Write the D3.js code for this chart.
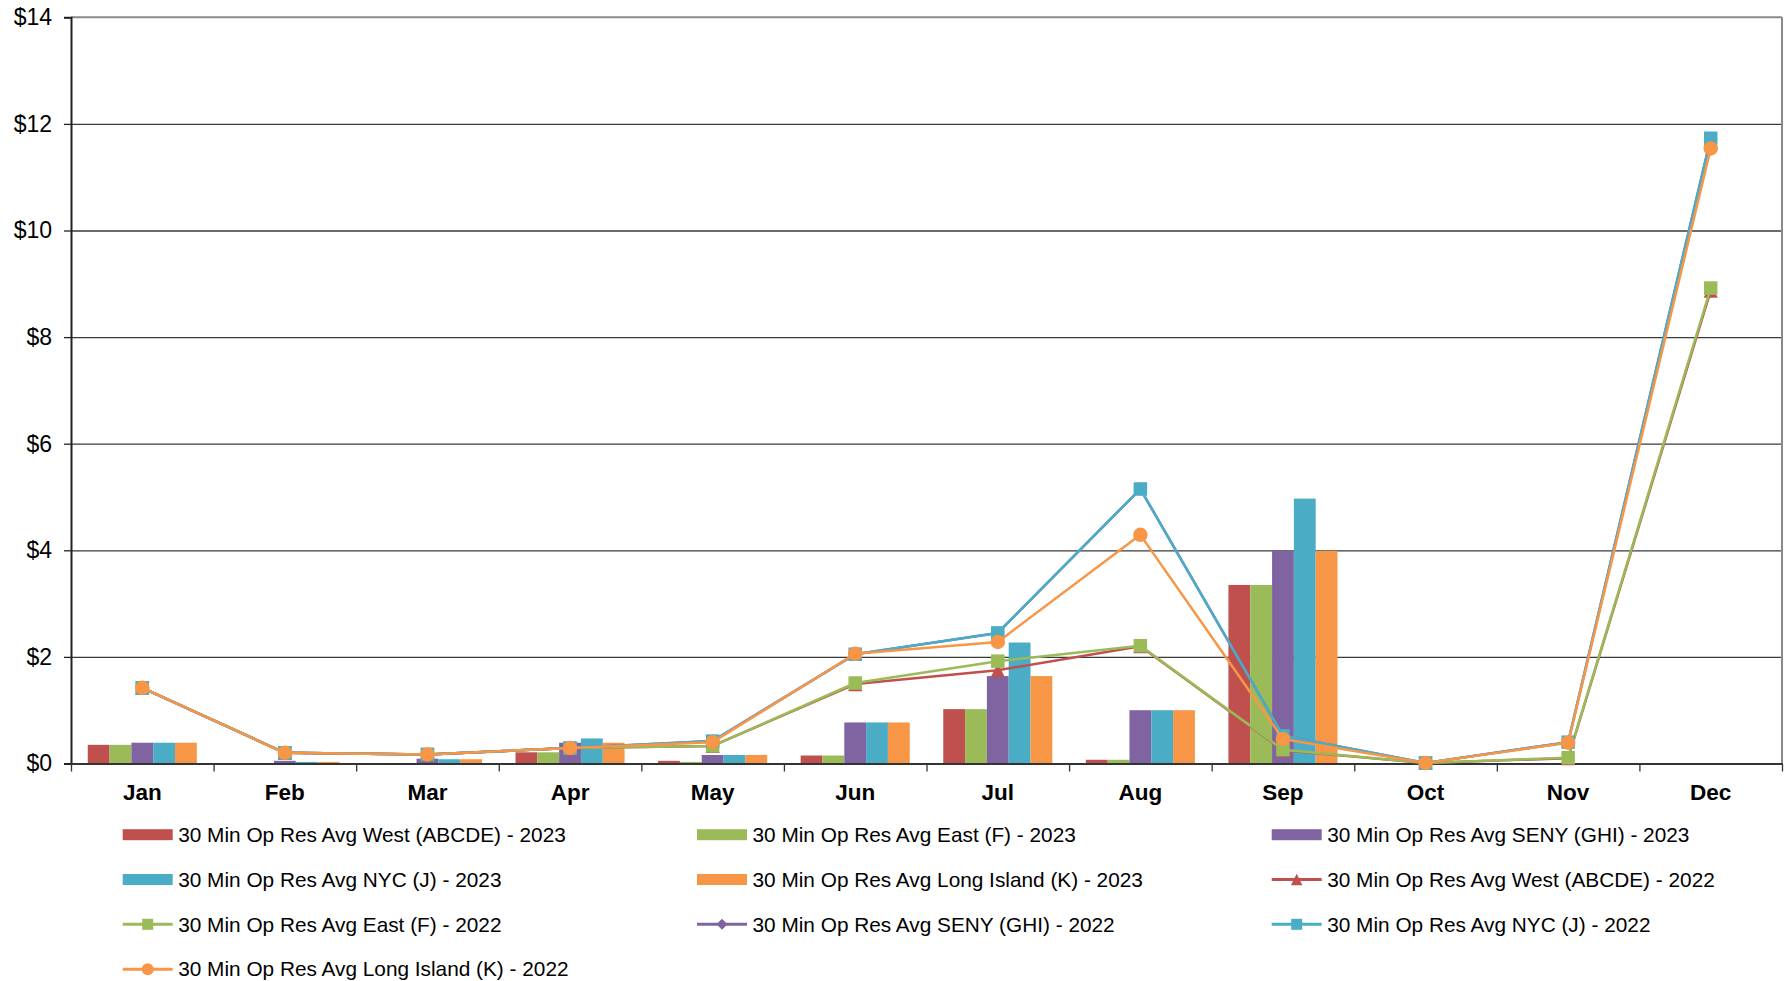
<!DOCTYPE html>
<html>
<head>
<meta charset="utf-8">
<script src="https://cdn.jsdelivr.net/npm/d3@7"></script>
<style>
  html, body { margin: 0; padding: 0; background: #fff; }
  svg { display: block; font-family: "Liberation Sans", Arial, sans-serif; }
</style>
</head>
<body>
<svg id="chart" width="1789" height="981"></svg>
<script>
// ---------- Data ----------
const months = ["Jan","Feb","Mar","Apr","May","Jun","Jul","Aug","Sep","Oct","Nov","Dec"];
const yTicks = [0, 2, 4, 6, 8, 10, 12, 14];

const barNames = [
  "30 Min Op Res Avg West (ABCDE) - 2023",
  "30 Min Op Res Avg East (F) - 2023",
  "30 Min Op Res Avg SENY (GHI) - 2023",
  "30 Min Op Res Avg NYC (J) - 2023",
  "30 Min Op Res Avg Long Island (K) - 2023"
];
const west2023 = [0.35, 0.00, 0.00, 0.21, 0.05, 0.15, 1.02, 0.07, 3.35, 0, 0, 0];
const east2023 = [0.35, 0.00, 0.00, 0.21, 0.03, 0.15, 1.02, 0.07, 3.35, 0, 0, 0];
const seny2023 = [0.39, 0.05, 0.09, 0.39, 0.16, 0.77, 1.64, 1.00, 3.99, 0, 0, 0];
const nyc2023  = [0.39, 0.03, 0.08, 0.47, 0.16, 0.77, 2.27, 1.00, 4.97, 0, 0, 0];
const li2023   = [0.39, 0.03, 0.08, 0.39, 0.16, 0.77, 1.64, 1.00, 3.99, 0, 0, 0];

const lineNames = [
  "30 Min Op Res Avg West (ABCDE) - 2022",
  "30 Min Op Res Avg East (F) - 2022",
  "30 Min Op Res Avg SENY (GHI) - 2022",
  "30 Min Op Res Avg NYC (J) - 2022",
  "30 Min Op Res Avg Long Island (K) - 2022"
];
const west2022 = [1.42, 0.20, 0.17, 0.29, 0.33, 1.49, 1.75, 2.20, 0.25, 0.01, 0.10, 8.87];
const east2022 = [1.42, 0.20, 0.17, 0.29, 0.33, 1.51, 1.92, 2.21, 0.26, 0.01, 0.11, 8.92];
const seny2022 = [1.42, 0.20, 0.17, 0.29, 0.42, 2.05, 2.45, 5.15, 0.52, 0.01, 0.40, 11.73];
const nyc2022  = [1.42, 0.20, 0.17, 0.29, 0.42, 2.05, 2.45, 5.15, 0.52, 0.01, 0.40, 11.73];
const li2022   = [1.42, 0.20, 0.17, 0.29, 0.40, 2.06, 2.28, 4.29, 0.46, 0.01, 0.39, 11.54];

const colors = ["#C0504D", "#9BBB59", "#8064A2", "#4BACC6", "#F79646"];
const markerTypes = ["triangle", "square", "diamond", "square", "circle"];

// ---------- Layout ----------
const svg = d3.select("#chart");
const plotL = 71, plotR = 1782, plotT = 17.3, plotB = 763.5;

const x = d3.scaleBand().domain(months).range([plotL, plotR]).paddingInner(0).paddingOuter(0);
const y = d3.scaleLinear().domain([0, 14]).range([plotB, plotT]);

const barSeries = [west2023, east2023, seny2023, nyc2023, li2023];
const lineSeries = [west2022, east2022, seny2022, nyc2022, li2022];

const groupW = x.bandwidth() * 0.765;
const xInner = d3.scaleBand().domain(d3.range(5)).range([0, groupW]).padding(0);

// gridlines
svg.append("g")
  .attr("transform", `translate(${plotL},0)`)
  .call(d3.axisLeft(y).tickValues(yTicks.slice(1, -1)).tickSize(-(plotR - plotL)).tickFormat(""))
  .call(g => g.select(".domain").remove())
  .call(g => g.selectAll("line").attr("stroke", "#3a3a3a").attr("stroke-width", 1.3));

// plot border top/right
svg.append("line").attr("x1", plotL).attr("x2", plotR).attr("y1", y(14)).attr("y2", y(14))
  .attr("stroke", "#8a8a8a").attr("stroke-width", 2);
svg.append("line").attr("x1", plotR).attr("x2", plotR).attr("y1", y(14)).attr("y2", y(0))
  .attr("stroke", "#8a8a8a").attr("stroke-width", 2);

// bars
barSeries.forEach((vals, si) => {
  svg.append("g").selectAll("rect")
    .data(vals.map((v, i) => ({ m: months[i], v })))
    .join("rect")
    .attr("x", d => x(d.m) + (x.bandwidth() - groupW) / 2 + xInner(si))
    .attr("width", xInner.bandwidth())
    .attr("y", d => y(d.v))
    .attr("height", d => y(0) - y(d.v))
    .attr("fill", colors[si]);
});

// y axis
svg.append("g")
  .attr("transform", `translate(${plotL},0)`)
  .call(d3.axisLeft(y).tickValues(yTicks).tickSize(7).tickPadding(12).tickFormat(d => "$" + d))
  .call(g => g.select(".domain").attr("stroke", "#222").attr("stroke-width", 2))
  .call(g => g.selectAll(".tick line").attr("stroke", "#222").attr("stroke-width", 1.3))
  .call(g => g.selectAll("text").attr("font-size", 23).attr("fill", "#000")
    .attr("font-family", "Liberation Sans, Arial, sans-serif"));

// x axis: ticks at category boundaries
const xb = d3.scaleLinear().domain([0, 12]).range([plotL, plotR]);
svg.append("g")
  .attr("transform", `translate(0,${plotB})`)
  .call(d3.axisBottom(xb).tickValues(d3.range(13)).tickSize(8).tickSizeOuter(0).tickFormat(""))
  .call(g => g.select(".domain").attr("stroke", "#333").attr("stroke-width", 2))
  .call(g => g.selectAll(".tick line").attr("stroke", "#333").attr("stroke-width", 1.3));

svg.append("g").selectAll("text")
  .data(months).join("text")
  .attr("x", d => x(d) + x.bandwidth() / 2)
  .attr("y", 799.5)
  .attr("text-anchor", "middle")
  .attr("font-size", 22.5)
  .attr("font-weight", "bold")
  .attr("fill", "#000")
  .text(d => d);

// marker drawing
function drawMarker(g, type, cx, cy, size, color) {
  if (type === "square") {
    g.append("rect").attr("x", cx - size / 2).attr("y", cy - size / 2)
      .attr("width", size).attr("height", size).attr("fill", color);
  } else if (type === "circle") {
    g.append("circle").attr("cx", cx).attr("cy", cy).attr("r", size / 2 + 0.5).attr("fill", color);
  } else if (type === "triangle") {
    const s = size * 1.05;
    g.append("path").attr("d", `M${cx},${cy - s / 2} L${cx + s / 2},${cy + s / 2} L${cx - s / 2},${cy + s / 2} Z`)
      .attr("fill", color);
  } else if (type === "diamond") {
    const s = size / 2;
    g.append("path").attr("d", `M${cx},${cy - s} L${cx + s},${cy} L${cx},${cy + s} L${cx - s},${cy} Z`)
      .attr("fill", color);
  }
}

const line = d3.line()
  .x((d, i) => x(months[i]) + x.bandwidth() / 2)
  .y(d => y(d));

lineSeries.forEach((vals, si) => {
  const g = svg.append("g");
  g.append("path").datum(vals).attr("d", line)
    .attr("fill", "none").attr("stroke", colors[si]).attr("stroke-width", 2.5)
    .attr("stroke-linejoin", "round");
  vals.forEach((v, i) => {
    drawMarker(g, markerTypes[si], x(months[i]) + x.bandwidth() / 2, y(v), 13.5, colors[si]);
  });
});

// legend
const legendItems = [];
barNames.forEach((n, i) => legendItems.push({ name: n, type: "bar", color: colors[i] }));
lineNames.forEach((n, i) => legendItems.push({ name: n, type: "line", color: colors[i], marker: markerTypes[i] }));

const colX = [122.7, 697, 1271.7];
const rowY = [834.7, 879.5, 924.3, 969.2];
legendItems.forEach((it, k) => {
  const cx = colX[k % 3], cy = rowY[Math.floor(k / 3)];
  const g = svg.append("g");
  if (it.type === "bar") {
    g.append("rect").attr("x", cx).attr("y", cy - 5.5).attr("width", 50).attr("height", 11).attr("fill", it.color);
  } else {
    g.append("line").attr("x1", cx).attr("x2", cx + 50).attr("y1", cy).attr("y2", cy)
      .attr("stroke", it.color).attr("stroke-width", 3);
    drawMarker(g, it.marker, cx + 25, cy, 11, it.color);
  }
  g.append("text").attr("x", cx + 55.5).attr("y", cy).attr("dy", "0.35em")
    .attr("font-size", 20.8).attr("fill", "#000").text(it.name);
});
</script>
</body>
</html>
